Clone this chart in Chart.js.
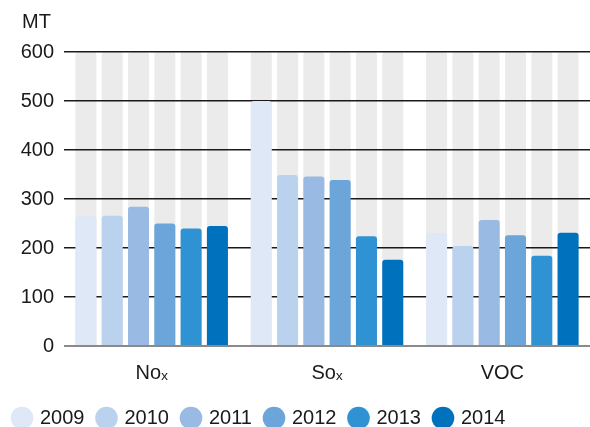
<!DOCTYPE html>
<html>
<head>
<meta charset="utf-8">
<script src="https://cdn.jsdelivr.net/npm/chart.js@4.4.1/dist/chart.umd.min.js"></script>
<style>
  body { margin: 0; background: #fff; overflow: hidden; }
  #wrap { width: 590px; height: 438px; }
</style>
</head>
<body>
<div id="wrap"><canvas id="emissions"></canvas></div>
<script>
// categories and years
const categories = ["Noₓ", "Soₓ", "VOC"];
const years = ["2009", "2010", "2011", "2012", "2013", "2014"];
const yearColors = ["#dfe8f6", "#bad2ee", "#98bae3", "#6ba5d9", "#2f92d3", "#0072bd"];

// values in MT, per year: [NOx, SOx, VOC]
const v2009 = [265, 500, 230];
const v2010 = [266, 349, 204];
const v2011 = [284, 346, 257];
const v2012 = [250, 339, 226];
const v2013 = [240, 224, 184];
const v2014 = [245, 176, 231];
const yearValues = [v2009, v2010, v2011, v2012, v2013, v2014];

const yMax = 600;
const yStep = 100;
const unitLabel = "MT";

const font = "'Liberation Sans', Arial, 'DejaVu Sans', sans-serif";
const textColor = "#1a1a1a";

// grey full-height columns behind each bar, drawn before the grid
const backBars = {
    id: "backBars",
    beforeDraw(chart) {
        const ctx = chart.ctx;
        const yScale = chart.scales.y;
        const top = yScale.getPixelForValue(yMax);
        const base = yScale.getPixelForValue(0);
        ctx.save();
        ctx.fillStyle = "#ebebeb";
        chart.data.datasets.forEach((ds, i) => {
            chart.getDatasetMeta(i).data.forEach(bar => {
                const left = bar.x - bar.width / 2;
                ctx.beginPath();
                ctx.roundRect(left, top, bar.width, base - top, [3, 3, 0, 0]);
                ctx.fill();
            });
        });
        ctx.restore();
    },
    afterDraw(chart) {
        const ctx = chart.ctx;
        ctx.save();
        ctx.font = "20px " + font;
        ctx.fillStyle = textColor;
        ctx.textBaseline = "middle";
        ctx.fillText(unitLabel, 22, 22);
        ctx.restore();
    }
};

const ctx = document.getElementById("emissions").getContext("2d");
new Chart(ctx, {
    type: "bar",
    data: {
        labels: categories,
        datasets: years.map((y, i) => ({
            label: y,
            data: yearValues[i],
            backgroundColor: yearColors[i],
            borderRadius: 3,
            categoryPercentage: 0.9,
            barPercentage: 0.8
        }))
    },
    options: {
        responsive: true,
        maintainAspectRatio: false,
        animation: false,
        layout: { padding: { top: 52, left: 0, right: 0, bottom: 0 } },
        scales: {
            x: {
                afterFit: s => { s.height += 2; },
                grid: { display: false },
                border: { display: false },
                ticks: { color: textColor, font: { family: font, size: 20 }, padding: 7 }
            },
            y: {
                min: 0,
                max: yMax,
                afterFit: s => { s.width = 64; },
                border: { display: false },
                grid: {
                    drawTicks: false,
                    color: c => c.tick.value === 0 ? "#8a8a8a" : "#1a1a1a",
                    lineWidth: c => c.tick.value === 0 ? 2 : 1.5
                },
                ticks: { stepSize: yStep, color: textColor, font: { family: font, size: 20 }, padding: 10 }
            }
        },
        plugins: {
            legend: {
                position: "bottom",
                align: "start",
                labels: {
                    usePointStyle: true,
                    pointStyle: "circle",
                    boxWidth: 16,
                    boxHeight: 16,
                    padding: 14,
                    color: textColor,
                    font: { family: font, size: 20 }
                }
            },
            tooltip: { enabled: false }
        }
    },
    plugins: [backBars]
});
</script>
</body>
</html>
